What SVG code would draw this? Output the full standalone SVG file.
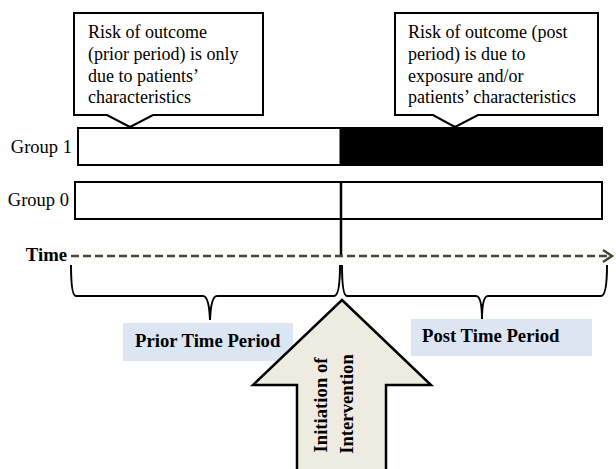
<svg xmlns="http://www.w3.org/2000/svg" width="616" height="469" viewBox="0 0 616 469">
<defs>
<style>
.t{font-family:"Liberation Serif","Times New Roman",serif;font-size:18px;fill:#000}
.g{font-family:"Liberation Serif","Times New Roman",serif;font-size:18.5px;fill:#000}
.b{font-family:"Liberation Serif","Times New Roman",serif;font-size:18.7px;font-weight:bold;fill:#000}
.box{fill:#fff;stroke:#000;stroke-width:2}
.brace{fill:none;stroke:#000;stroke-width:2}
.lbl{fill:#dce6f2}
</style>
<marker id="chev" markerWidth="14" markerHeight="16" refX="11" refY="8" orient="auto" markerUnits="userSpaceOnUse">
<path d="M2,2 L11,8 L2,14" fill="none" stroke="#4a4532" stroke-width="2.5"/>
</marker>
</defs>
<rect width="616" height="469" fill="#fff"/>
<g id="callout1">
<path class="box" d="M74,13 H263 V115 H153 L130,127 L107,115 H74 Z"/>
<text class="t" x="88" y="38">Risk of outcome</text>
<text class="t" x="88" y="60">(prior period) is only</text>
<text class="t" x="88" y="82">due to patients’</text>
<text class="t" x="88" y="103">characteristics</text>
</g>
<g id="callout2">
<path class="box" d="M395,13 H598 V115 H478 L455,127 L433,115 H395 Z"/>
<text class="t" x="408" y="38">Risk of outcome (post</text>
<text class="t" x="408" y="60">period) is due to</text>
<text class="t" x="408" y="82">exposure and/or</text>
<text class="t" x="408" y="103">patients’ characteristics</text>
</g>
<g id="group1">
<text class="g" x="72" y="153" text-anchor="end">Group 1</text>
<rect class="box" x="78" y="128" width="524" height="37"/>
<rect x="340" y="128" width="262" height="37" fill="#000" stroke="#000" stroke-width="1"/>
</g>
<g id="group0">
<text class="g" x="69" y="206" text-anchor="end">Group 0</text>
<rect class="box" x="75" y="182" width="527" height="37"/>
</g>
<g id="connectors">
<line x1="341" y1="182" x2="341" y2="256" stroke="#000" stroke-width="2.5"/>
<line x1="71" y1="256" x2="612" y2="256" stroke="#4a4532" stroke-width="2.5" stroke-dasharray="8,4" marker-end="url(#chev)"/>
<path class="brace" d="M71,265 Q71,296 76,296 H203 Q209,296 210,320 Q211,296 217,296 H334 Q340,296 340,265"/>
<path class="brace" d="M342,265 Q342,296 347,296 H476 Q482,296 482,320 Q482,296 488,296 H601 Q607,296 607,265"/>
</g>
<g id="time">
<text class="b" x="67" y="261" text-anchor="end">Time</text>
</g>
<g id="prior">
<rect class="lbl" x="123" y="323" width="170" height="38"/>
<text class="b" x="135" y="347">Prior Time Period</text>
</g>
<g id="post">
<rect class="lbl" x="411" y="319" width="181" height="37"/>
<text class="b" x="422" y="342">Post Time Period</text>
</g>
<g id="intervention">
<path d="M342,300 L431,385 H386 V472 H297 V385 H253 Z" fill="#eeece1" stroke="#000" stroke-width="2.5"/>
<text class="b" transform="translate(327,405) rotate(-90)" text-anchor="middle">Initiation of</text>
<text class="b" transform="translate(353,404) rotate(-90)" text-anchor="middle">Intervention</text>
</g>
</svg>
